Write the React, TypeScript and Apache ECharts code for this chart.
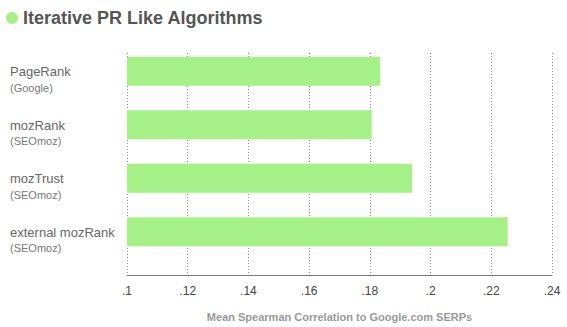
import React, { useEffect, useRef } from "react";
import * as echarts from "echarts";

const titleText = "Iterative PR Like Algorithms";
const categories = ["PageRank", "mozRank", "mozTrust", "external mozRank"];
const sources = ["Google", "SEOmoz", "SEOmoz", "SEOmoz"];
const values = [0.1834, 0.1806, 0.1939, 0.2254];
const axisTitle = "Mean Spearman Correlation to Google.com SERPs";
const xMin = 0.1;
const xMax = 0.24;
const xStep = 0.02;

const fmt = (v: number) => {
  const s = (Math.round(v * 100) / 100).toString();
  return s.startsWith("0") ? s.slice(1) : s;
};

export default function App() {
  const ref = useRef<HTMLDivElement>(null);
  useEffect(() => {
    if (!ref.current) return;
    document.body.style.margin = "0";
    const chart = echarts.init(ref.current, null, { renderer: "svg" });
    const font = "Liberation Sans, Arial, Helvetica, sans-serif";
    chart.setOption({
      animation: false,
      textStyle: { fontFamily: font },
      graphic: [
        {
          type: "circle",
          shape: { cx: 12, cy: 18, r: 6 },
          style: { fill: "#a6ef88" },
        },
        {
          type: "text",
          x: 23,
          y: 18,
          style: {
            text: titleText,
            font: "bold 18px " + font,
            fill: "#555555",
            verticalAlign: "middle",
          },
        },
      ],
      grid: [
        { left: 127, right: 15, top: 53, bottom: 54, containLabel: false },
        { left: 127, right: 15, top: 44.5, height: 216, containLabel: false },
      ],
      xAxis: [
        {
          gridIndex: 0,
          type: "value",
          min: xMin,
          max: xMax,
          interval: xStep,
          axisLine: { show: false },
          axisTick: { show: false },
          axisLabel: { show: false },
          splitLine: {
            show: true,
            showMinLine: true,
            showMaxLine: true,
            lineStyle: { color: "#8a8a8a", type: [1, 2], width: 1 },
          },
        },
        {
          gridIndex: 1,
          type: "value",
          min: xMin,
          max: xMax,
          interval: xStep,
          offset: 16.5,
          axisLine: { show: true, lineStyle: { color: "#777777", width: 1 } },
          axisTick: { show: false },
          splitLine: { show: false },
          axisLabel: {
            formatter: (v: number) => fmt(v),
            color: "#444444",
            fontSize: 12,
            margin: 10,
            fontFamily: font,
          },
          name: axisTitle,
          nameLocation: "middle",
          nameGap: 36,
          nameTextStyle: {
            color: "#999999",
            fontSize: 11,
            fontWeight: "bold",
            fontFamily: font,
          },
        },
      ],
      yAxis: [
        { gridIndex: 0, type: "value", show: false, min: 0, max: 1 },
        {
          gridIndex: 1,
          type: "category",
          inverse: true,
          data: categories,
          axisLine: { show: false },
          axisTick: { show: false },
          splitLine: { show: false },
          axisLabel: {
            align: "left",
            margin: 117,
            formatter: (v: string, i: number) => `{a|${v}}\n{b|(${sources[i]})}`,
            padding: [16, 0, 0, 0],
            rich: {
              a: { fontSize: 13, color: "#666666", lineHeight: 17, fontFamily: font },
              b: { fontSize: 11, color: "#777777", lineHeight: 15, fontFamily: font },
            },
          },
        },
      ],
      series: [
        {
          type: "bar",
          xAxisIndex: 1,
          yAxisIndex: 1,
          data: values,
          barWidth: 29,
          itemStyle: { color: "#a6f088" },
          silent: true,
        },
      ],
    });
    return () => chart.dispose();
  }, []);
  return (
    <div
      ref={ref}
      style={{ position: "absolute", left: 0, top: 0, width: 567, height: 327 }}
    />
  );
}
